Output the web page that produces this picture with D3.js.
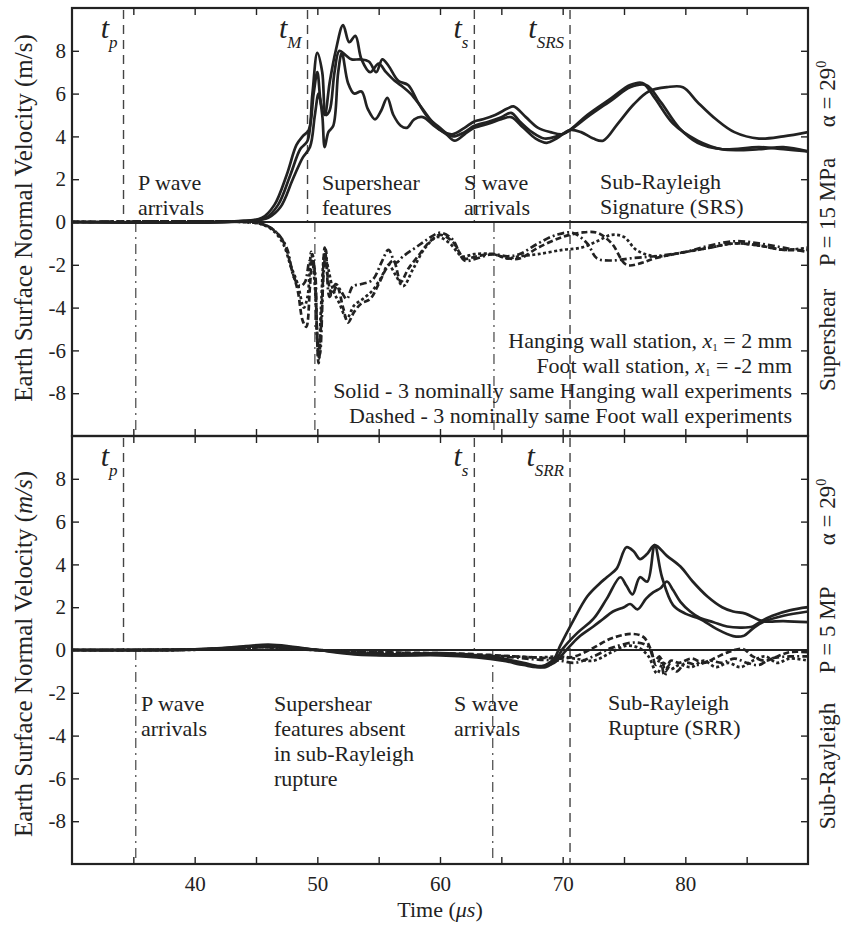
<!DOCTYPE html>
<html>
<head>
<meta charset="utf-8">
<script src="https://cdn.jsdelivr.net/npm/d3@7"></script>
<style>
  body { margin: 0; background: #fff; }
  svg text { font-family: "Liberation Serif", "Times New Roman", serif; fill: #222; }
</style>
</head>
<body>
<div id="chart"></div>
<script>
// axis values
let timeDomain = [30, 90];
let timeTicks = [35, 40, 45, 50, 55, 60, 65, 70, 75, 80, 85];
let timeLabels = [40, 50, 60, 70, 80];
let velDomain = [-10, 10];
let velTicks = [-8, -6, -4, -2, 0, 2, 4, 6, 8];

// supershear, P = 15 MPa : hanging wall (solid)
let ssHw1 = [[30,0],[44,0.05],[45.5,0.2],[46.5,0.8],[47.5,2.2],[48.3,3.6],[48.8,4.0],[49.3,4.3],[49.7,6.0],[50.0,7.0],[50.3,5.5],[50.6,5.0],[51.0,6.5],[51.5,8.0],[52.1,9.2],[52.6,8.4],[53.1,8.7],[53.6,7.6],[54.3,7.0],[55.0,7.4],[55.6,7.0],[56.3,6.6],[57.0,6.3],[57.6,6.0],[58.3,5.5],[59.2,4.8],[60.0,4.3],[61.0,4.1],[62.0,4.4],[62.8,4.7],[63.5,4.8],[64.5,5.0],[65.5,5.3],[66.0,5.4],[67,4.9],[68,4.4],[69,4.2],[70,4.1],[70.6,4.3],[72,5.0],[74,5.8],[75.5,6.4],[76.5,6.5],[77.5,5.8],[79,4.6],[81,3.8],[83,3.4],[86,3.4],[88,3.5],[90,3.3]];
let ssHw2 = [[30,0],[44,0.05],[45.8,0.2],[46.8,0.8],[47.8,2.2],[48.6,3.4],[49.2,3.8],[49.6,6.0],[50.0,7.9],[50.4,7.0],[50.7,5.0],[51.0,5.2],[51.4,7.0],[51.8,8.0],[52.3,7.8],[52.8,7.6],[53.5,7.6],[54.2,7.5],[54.8,7.0],[55.3,7.6],[55.8,7.3],[56.6,6.6],[57.4,6.4],[58.2,5.6],[59.0,4.9],[60.0,4.4],[61.0,4.0],[62.0,4.2],[62.8,4.5],[64,4.7],[65,4.9],[65.8,5.1],[66.5,4.7],[67.5,4.2],[68.5,3.9],[69.5,4.0],[70.6,4.3],[72,4.9],[74,5.7],[75.5,6.3],[76.8,6.4],[78,5.6],[79.5,4.4],[81,3.7],[83,3.4],[86,3.5],[88,3.4],[90,3.3]];
let ssHw3 = [[30,0],[44,0.03],[46,0.2],[47,0.7],[48,2.0],[48.8,3.0],[49.4,3.5],[49.8,5.0],[50.1,6.0],[50.4,5.0],[50.6,3.5],[50.9,4.2],[51.3,4.5],[51.7,7.0],[52.0,7.9],[52.5,6.5],[53.0,6.0],[53.6,6.1],[54.1,5.3],[54.7,4.8],[55.2,5.2],[55.7,5.8],[56.2,5.0],[56.8,4.5],[57.3,4.4],[57.9,4.8],[58.6,4.9],[59.5,4.5],[60.5,4.1],[61.2,3.8],[62.0,4.1],[62.8,4.4],[64,4.6],[65,4.8],[65.8,4.9],[66.8,4.4],[67.8,3.9],[68.7,3.7],[69.5,3.9],[70.6,4.3],[71.5,4.2],[72.5,3.9],[73.3,3.8],[74.5,4.6],[75.8,5.5],[77,6.1],[78.5,6.3],[79.8,6.3],[81,5.6],[82.5,4.8],[84,4.2],[86,3.9],[88,4.0],[90,4.2]];

// supershear : foot wall (dashed)
let ssFw1 = [[30,0],[44,0],[45.5,-0.1],[46.5,-0.4],[47.3,-1.0],[47.9,-2.2],[48.4,-3.2],[48.8,-4.6],[49.1,-4.9],[49.4,-3.0],[49.6,-1.5],[49.8,-2.5],[50.1,-6.6],[50.4,-3.5],[50.6,-1.2],[50.9,-2.8],[51.2,-3.4],[51.6,-3.0],[52.1,-4.0],[52.5,-4.7],[53.0,-4.2],[53.6,-3.8],[54.3,-3.6],[55.0,-2.9],[55.6,-2.2],[56.2,-1.8],[56.8,-2.8],[57.4,-2.2],[58.2,-1.6],[59.2,-0.9],[60.0,-0.6],[61.0,-0.9],[62.0,-1.7],[63.0,-1.6],[64.3,-1.5],[65.5,-1.7],[66.5,-1.7],[68,-1.2],[70,-0.7],[71.5,-0.5],[72.8,-0.5],[74,-1.0],[75.2,-2.0],[76.5,-1.9],[77.5,-1.7],[80,-1.4],[82,-1.2],[84,-1.0],[86,-1.1],[88,-1.3],[90,-1.3]];
let ssFw2 = [[30,0],[44,0],[45.6,-0.1],[46.7,-0.5],[47.5,-1.2],[48.1,-2.6],[48.6,-3.0],[49.0,-2.8],[49.4,-1.8],[49.7,-2.0],[50.0,-5.5],[50.2,-6.2],[50.5,-2.5],[50.7,-1.3],[51.0,-3.5],[51.5,-2.9],[52.0,-3.3],[52.4,-3.6],[52.9,-3.0],[53.6,-2.9],[54.5,-2.7],[55.3,-1.8],[55.8,-1.3],[56.4,-1.9],[57.0,-1.6],[58.0,-1.2],[59.0,-0.8],[60.0,-0.5],[61.0,-0.8],[62.0,-1.8],[63.0,-1.7],[64.3,-1.5],[65.5,-1.6],[66.5,-1.5],[68,-1.0],[69.5,-0.6],[70.8,-0.5],[72,-1.0],[72.8,-1.7],[74,-1.8],[75.5,-1.7],[77.5,-1.6],[80,-1.4],[82,-1.1],[84,-0.9],[86,-1.0],[88,-1.2],[90,-1.4]];
let ssFw3 = [[30,0],[44,0],[45.4,-0.1],[46.4,-0.4],[47.2,-1.0],[47.8,-2.0],[48.4,-2.9],[48.9,-4.0],[49.2,-3.5],[49.5,-1.4],[49.8,-3.0],[50.1,-6.4],[50.3,-4.0],[50.6,-1.5],[50.9,-2.2],[51.3,-3.2],[51.8,-3.8],[52.4,-4.5],[53.0,-3.9],[53.7,-3.6],[54.5,-3.2],[55.2,-2.6],[55.8,-2.0],[56.4,-2.5],[57.0,-3.0],[57.8,-2.2],[58.8,-1.2],[59.8,-0.7],[60.8,-1.0],[61.8,-1.6],[62.8,-1.5],[64.3,-1.5],[65.5,-1.7],[66.5,-1.6],[68,-1.5],[70,-1.3],[71.5,-1.2],[72.8,-0.9],[74,-0.6],[75,-0.7],[76,-1.3],[77.5,-1.6],[80,-1.4],[82,-1.2],[84,-1.0],[86,-1.1],[88,-1.3],[90,-1.2]];

// sub-Rayleigh, P = 5 MPa : hanging wall (solid)
let srHw1 = [[30,0],[40,0.03],[43,0.12],[46,0.25],[48,0.15],[50,0],[53,-0.15],[56,-0.2],[60,-0.15],[63,-0.25],[65.1,-0.4],[66.8,-0.6],[68.3,-0.75],[69.3,-0.4],[69.8,0.2],[70.8,1.3],[72.0,2.5],[73.0,3.1],[73.6,3.4],[74.4,3.8],[75.2,4.8],[75.8,4.6],[76.3,4.25],[76.9,4.5],[77.5,4.9],[78.5,4.4],[79.6,3.9],[80.6,3.2],[81.8,2.5],[83.0,2.0],[83.9,1.8],[84.9,1.7],[86.3,1.35],[88,1.35],[90,1.3]];
let srHw2 = [[30,0],[40,0.03],[43,0.1],[46,0.22],[48,0.12],[50,0],[53,-0.2],[56,-0.25],[60,-0.2],[63,-0.3],[65.1,-0.45],[66.8,-0.65],[68.6,-0.8],[69.5,-0.4],[70,0.05],[71.2,0.8],[72.5,1.45],[73.6,2.4],[74.7,3.4],[75.2,3.0],[75.7,2.6],[76.3,3.4],[76.9,3.2],[77.5,4.9],[78.1,3.4],[79.0,2.1],[80.0,1.7],[81.2,1.45],[82.5,1.0],[83.9,0.65],[84.7,0.65],[85.5,1.0],[86.3,1.3],[88,1.6],[90,1.8]];
let srHw3 = [[30,0],[40,0.02],[43,0.1],[46,0.2],[48,0.1],[50,0],[53,-0.15],[56,-0.25],[60,-0.25],[63,-0.35],[65.1,-0.5],[66.8,-0.7],[68.0,-0.8],[69.3,-0.6],[70.3,0],[71.3,0.6],[72.5,1.1],[73.3,1.45],[74.1,1.8],[75.0,2.0],[75.5,2.15],[76.1,1.9],[76.8,2.4],[77.4,2.7],[78.0,2.9],[78.5,3.2],[79.0,2.8],[79.6,2.25],[80.4,1.8],[81.2,1.5],[82.3,1.3],[83.4,1.1],[84.5,1.05],[85.5,1.1],[86.2,1.35],[87.1,1.6],[88.5,1.85],[90,2.0]];

// sub-Rayleigh : foot wall (dashed)
let srFw1 = [[30,0],[40,0.02],[44,0.12],[46,0.15],[48,0.05],[50,0],[55,-0.1],[60,-0.15],[63,-0.2],[66,-0.3],[68,-0.35],[69.8,-0.4],[71,-0.3],[72.5,0.1],[74,0.55],[75.7,0.75],[76.6,0.6],[77.2,0.0],[77.6,-0.7],[78,-0.4],[78.4,-1.0],[78.8,-0.5],[79.5,-0.6],[80.5,-0.4],[81.5,-0.6],[82.5,-0.35],[83.5,-0.1],[84.7,0.05],[85.5,-0.3],[86.5,-0.5],[87.5,-0.3],[88.5,-0.1],[90,-0.1]];
let srFw2 = [[30,0],[40,0.02],[44,0.1],[46,0.12],[48,0.04],[50,0],[55,-0.15],[60,-0.2],[63,-0.25],[66,-0.35],[68,-0.45],[69.8,-0.5],[71,-0.6],[72.5,-0.3],[74,0.1],[76,0.35],[77,0.15],[77.5,-0.5],[77.9,-0.3],[78.3,-1.2],[78.7,-0.7],[79.3,-1.0],[80,-0.6],[81,-0.7],[82,-0.5],[83,-0.6],[84,-0.4],[85,-0.6],[86,-0.7],[87,-0.4],[88.5,-0.3],[90,-0.3]];
let srFw3 = [[30,0],[40,0.01],[44,0.1],[46,0.12],[48,0.04],[50,0],[55,-0.1],[60,-0.2],[63,-0.25],[66,-0.3],[68,-0.35],[69.8,-0.3],[71,-0.4],[72.5,-0.5],[74,-0.1],[75.2,0.2],[76.2,0.1],[77,-0.3],[77.7,-1.1],[78.2,-0.6],[78.8,-0.9],[79.5,-0.7],[80.5,-0.8],[81.5,-0.5],[82.5,-0.8],[83.5,-0.6],[84.5,-0.8],[85.5,-0.5],[86.5,-0.3],[87.5,-0.6],[88.5,-0.4],[90,-0.5]];

// arrival-time markers (µs)
let ssDashed = [{t: 34.2, sub: "p"}, {t: 49.2, sub: "M"}, {t: 62.8, sub: "s"}, {t: 70.6, sub: "SRS", full: true}];
let ssDashDot = [35.2, 49.8, 64.4];
let srDashed = [{t: 34.2, sub: "p"}, {t: 62.8, sub: "s"}, {t: 70.6, sub: "SRR", full: true}];
let srDashDot = [35.2, 64.3];

let svgWidth = 843;
let svgHeight = 925;
let left = 72, right = 808;

let svg = d3.select("#chart")
    .append("svg")
    .attr("width", svgWidth)
    .attr("height", svgHeight);

let x = d3.scaleLinear().domain(timeDomain).range([left, right]);

let ink = "#222";
let footDashes = ["6,3", "7,3,2,3", "3,2.5"];

function drawPanel(top, bottom, solids, dashes, markers, dashDots, id) {
    let y = d3.scaleLinear().domain(velDomain).range([bottom, top]);
    let g = svg.append("g");

    g.append("clipPath").attr("id", id)
        .append("rect")
        .attr("x", left).attr("y", top)
        .attr("width", right - left).attr("height", bottom - top);

    // dashed arrival markers
    markers.forEach(function (m) {
        g.append("line")
            .attr("x1", x(m.t)).attr("x2", x(m.t))
            .attr("y1", top + 2).attr("y2", m.full ? bottom : y(0))
            .attr("stroke", "#444")
            .attr("stroke-width", 1.4)
            .attr("stroke-dasharray", "9,6");
    });
    dashDots.forEach(function (t) {
        g.append("line")
            .attr("x1", x(t)).attr("x2", x(t))
            .attr("y1", y(0)).attr("y2", bottom)
            .attr("stroke", "#444")
            .attr("stroke-width", 1.2)
            .attr("stroke-dasharray", "10,5,2,5");
    });

    let line = d3.line()
        .x(d => x(d[0]))
        .y(d => y(d[1]))
        .curve(d3.curveCatmullRom.alpha(0.5));

    let curves = g.append("g").attr("clip-path", `url(#${id})`);

    curves.append("line")
        .attr("x1", left).attr("x2", right)
        .attr("y1", y(0)).attr("y2", y(0))
        .attr("stroke", ink).attr("stroke-width", 2);

    dashes.forEach(function (s, i) {
        curves.append("path")
            .attr("d", line(s))
            .attr("fill", "none")
            .attr("stroke", ink)
            .attr("stroke-width", 2.7)
            .attr("stroke-dasharray", footDashes[i]);
    });
    solids.forEach(function (s) {
        curves.append("path")
            .attr("d", line(s))
            .attr("fill", "none")
            .attr("stroke", ink)
            .attr("stroke-width", 2.7);
    });

    // ticks on all four sides, pointing in
    g.append("g")
        .attr("transform", `translate(${left},0)`)
        .call(d3.axisLeft(y).tickValues(velTicks).tickSize(-7).tickSizeOuter(0).tickPadding(6).tickFormat(d => String(d)))
        .call(a => a.select(".domain").remove())
        .call(a => a.selectAll("text").attr("font-size", 21).attr("font-family", "Liberation Serif"));
    g.append("g")
        .attr("transform", `translate(${right},0)`)
        .call(d3.axisRight(y).tickValues(velTicks).tickSize(-7).tickSizeOuter(0).tickFormat(""))
        .call(a => a.select(".domain").remove());
    g.append("g")
        .attr("transform", `translate(0,${top})`)
        .call(d3.axisTop(x).tickValues(timeTicks).tickSize(-7).tickSizeOuter(0).tickFormat(""))
        .call(a => a.select(".domain").remove());
    g.append("g")
        .attr("transform", `translate(0,${bottom})`)
        .call(d3.axisBottom(x).tickValues(timeTicks).tickSize(-7).tickSizeOuter(0).tickPadding(12)
            .tickFormat(d => (id === "clipB" && timeLabels.includes(d)) ? String(d) : ""))
        .call(a => a.select(".domain").remove())
        .call(a => a.selectAll("text").attr("font-size", 21).attr("font-family", "Liberation Serif"));
    g.selectAll(".tick line").attr("stroke", ink).attr("stroke-width", 1.4);
    g.selectAll(".tick text").attr("fill", ink);

    g.append("rect")
        .attr("x", left).attr("y", top)
        .attr("width", right - left).attr("height", bottom - top)
        .attr("fill", "none")
        .attr("stroke", ink)
        .attr("stroke-width", 2.2);

    // t labels for markers
    markers.forEach(function (m) {
        let t = g.append("text")
            .attr("x", x(m.t) - 6)
            .attr("y", top + 30)
            .attr("text-anchor", "end")
            .attr("font-style", "italic");
        t.append("tspan").attr("font-size", 30).text("t");
        t.append("tspan").attr("font-size", 17).attr("dy", 10).text(m.sub);
    });

    return y;
}

let yTop = drawPanel(8, 436, [ssHw1, ssHw2, ssHw3], [ssFw1, ssFw2, ssFw3], ssDashed, ssDashDot, "clipA");
let yBot = drawPanel(436, 864, [srHw1, srHw2, srHw3], [srFw1, srFw2, srFw3], srDashed, srDashDot, "clipB");

function note(px, py, lines, size) {
    let t = svg.append("text")
        .attr("x", px).attr("y", py)
        .attr("font-size", size || 22);
    lines.forEach(function (s, i) {
        t.append("tspan").attr("x", px).attr("dy", i ? 25 : 0).text(s);
    });
}

// top panel annotations
note(138, 190, ["P wave", "arrivals"]);
note(322, 190, ["Supershear", "features"]);
note(464, 190, ["S wave", "arrivals"]);
note(600, 189, ["Sub-Rayleigh", "Signature (SRS)"]);

// bottom panel annotations
note(141, 711, ["P wave", "arrivals"]);
note(274, 711, ["Supershear", "features absent", "in sub-Rayleigh", "rupture"]);
note(454, 711, ["S wave", "arrivals"]);
note(608, 710, ["Sub-Rayleigh", "Rupture (SRR)"]);

// legend text (right aligned)
function station(py, before, after) {
    let t = svg.append("text")
        .attr("x", 792).attr("y", py)
        .attr("text-anchor", "end")
        .attr("font-size", 22);
    t.append("tspan").text(before);
    t.append("tspan").attr("font-style", "italic").text("x");
    t.append("tspan").attr("font-size", 11).attr("dy", 3).text("1");
    t.append("tspan").attr("dy", -3).text(after);
}
station(348, "Hanging wall station, ", " = 2 mm");
station(373, "Foot wall station, ", " = -2 mm");
svg.append("text").attr("x", 792).attr("y", 398).attr("text-anchor", "end").attr("font-size", 22)
    .text("Solid - 3 nominally same Hanging wall experiments");
svg.append("text").attr("x", 792).attr("y", 423).attr("text-anchor", "end").attr("font-size", 22)
    .text("Dashed - 3 nominally same Foot wall experiments");

// y axis titles
svg.append("text")
    .attr("transform", "translate(32,218) rotate(-90)")
    .attr("text-anchor", "middle")
    .attr("font-size", 25)
    .text("Earth Surface Normal Velocity (m/s)");
let yb = svg.append("text")
    .attr("transform", "translate(32,654) rotate(-90)")
    .attr("text-anchor", "middle")
    .attr("font-size", 25);
yb.append("tspan").text("Earth Surface Normal Velocity (");
yb.append("tspan").attr("font-style", "italic").text("m/s");
yb.append("tspan").text(")");

// right side case labels
function side(cy, parts) {
    let t = svg.append("text")
        .attr("transform", `translate(835,${cy}) rotate(-90)`)
        .attr("text-anchor", "middle")
        .attr("font-size", 23);
    parts.forEach(p => t.append("tspan").attr("dy", p.dy || 0).attr("font-size", p.size || 23).text(p.s));
}
side(340, [{s: "Supershear"}]);
side(212, [{s: "P = 15 MPa"}]);
side(94, [{s: "α = 29"}, {s: "0", size: 14, dy: -9}]);
side(766, [{s: "Sub-Rayleigh"}]);
side(630, [{s: "P = 5 MP"}]);
side(512, [{s: "α = 29"}, {s: "0", size: 14, dy: -9}]);

// x axis title
let xt = svg.append("text")
    .attr("x", 440).attr("y", 917)
    .attr("text-anchor", "middle")
    .attr("font-size", 22);
xt.append("tspan").text("Time (");
xt.append("tspan").attr("font-style", "italic").text("μs");
xt.append("tspan").text(")");
</script>
</body>
</html>
